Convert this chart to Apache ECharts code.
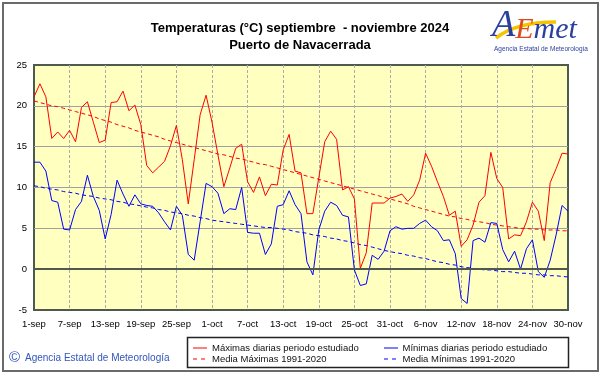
<!DOCTYPE html>
<html>
<head>
<meta charset="utf-8">
<script src="https://cdn.jsdelivr.net/npm/echarts@6/dist/echarts.min.js"></script>
<style>
html,body{margin:0;padding:0;background:#fff;}
#chart{width:601px;height:374px;}
</style>
</head>
<body>
<div id="chart"></div>
<script>
// ---- data ----
var months = [['sep', 30], ['oct', 31], ['nov', 30]];
var categories = [];
months.forEach(function (m) { for (var d = 1; d <= m[1]; d++) categories.push(d + '-' + m[0]); });

var yTicks = [-5, 0, 5, 10, 15, 20, 25];

var maxDaily = [
  21.1, 22.7, 21.1, 16.0, 16.8, 16.0, 17.0, 15.6, 19.8, 20.5,
  18.0, 15.5, 15.8, 20.4, 20.5, 21.8, 19.4, 20.1, 17.7, 12.7,
  11.8, 12.5, 13.2, 15.1, 17.6, 13.4, 8.0, 13.4, 18.9, 21.3,
  18.0, 14.0, 10.1, 12.4, 14.8, 15.3, 10.7, 9.4, 11.3, 9.0,
  10.4, 10.3, 14.6, 16.5, 12.0, 11.8, 6.8, 6.8, 11.2, 15.6,
  16.9, 15.9, 9.7, 10.1, 8.6, 0.1, 2.0, 8.1, 8.1, 8.1,
  8.7, 8.9, 9.2, 8.3, 9.1, 10.9, 14.2, 12.6, 10.7, 8.9,
  6.6, 7.1, 2.8, 3.6, 5.4, 8.2, 9.0, 14.3, 11.1, 10.0,
  3.7, 4.2, 4.1, 5.8, 8.2, 7.1, 3.5, 10.6, 12.3, 14.2, 14.1
];

var minDaily = [
  13.1, 13.1, 12.0, 8.4, 8.2, 4.9, 4.8, 7.3, 8.3, 11.5,
  8.9, 7.2, 3.7, 6.7, 10.9, 9.2, 7.7, 9.1, 8.0, 7.8,
  7.7, 6.9, 5.8, 4.8, 7.7, 6.6, 1.8, 1.1, 5.8, 10.5,
  10.1, 9.3, 6.8, 7.4, 7.3, 10.0, 4.5, 4.4, 4.4, 1.8,
  3.1, 7.7, 7.9, 9.6, 7.9, 6.8, 0.9, -0.7, 4.8, 7.1,
  8.2, 7.8, 6.6, 6.4, -0.1, -2.0, -1.8, 1.7, 1.2, 2.2,
  4.7, 5.2, 4.9, 5.0, 5.0, 5.6, 6.0, 5.2, 4.7, 3.5,
  3.6, 1.9, -3.6, -4.2, 3.5, 3.8, 3.3, 5.7, 5.6, 2.4,
  0.9, 2.2, 0.0, 2.5, 3.6, -0.3, -1.0, 1.1, 4.2, 7.8, 7.1
];

var meanMax = [
  20.6, 20.4, 20.2, 20.0, 19.9, 19.7, 19.5,
  19.3, 19.1, 18.9, 18.7, 18.4, 18.2,
  18.0, 17.7, 17.5, 17.3, 17.0, 16.8,
  16.6, 16.4, 16.2, 15.9, 15.7, 15.5,
  15.3, 15.1, 14.9, 14.7, 14.5, 14.3,
  14.1, 14.0, 13.8, 13.6, 13.5, 13.3,
  13.1, 12.9, 12.8, 12.6, 12.4, 12.2,
  12.0, 11.8, 11.6, 11.4, 11.2, 11.0,
  10.8, 10.6, 10.4, 10.2, 10.0, 9.8,
  9.6, 9.4, 9.2, 9.0, 8.8, 8.6,
  8.4, 8.2, 8.0, 7.7, 7.5, 7.3,
  7.1, 6.9, 6.7, 6.5, 6.4, 6.2,
  6.1, 5.9, 5.8, 5.7, 5.5, 5.4,
  5.3, 5.2, 5.1, 5.0, 5.0, 4.9,
  4.9, 4.8, 4.8, 4.8, 4.7, 4.7
];

var meanMin = [
  10.2, 10.1, 9.9, 9.8, 9.7, 9.5, 9.4,
  9.3, 9.1, 9.0, 8.9, 8.7, 8.6,
  8.5, 8.3, 8.2, 8.0, 7.9, 7.75,
  7.6, 7.5, 7.3, 7.2, 7.0, 6.9,
  6.8, 6.6, 6.5, 6.3, 6.2, 6.0,
  5.9, 5.8, 5.7, 5.6, 5.5, 5.4,
  5.3, 5.2, 5.1, 5.1, 5.0, 4.9,
  4.8, 4.6, 4.5, 4.4, 4.2, 4.1,
  4.0, 3.8, 3.7, 3.5, 3.4, 3.2,
  3.0, 2.9, 2.7, 2.5, 2.3, 2.15,
  2.0, 1.9, 1.7, 1.6, 1.4, 1.3,
  1.1, 0.9, 0.8, 0.6, 0.5, 0.3,
  0.2, 0.1, 0.0, -0.1, -0.1, -0.2,
  -0.3, -0.3, -0.4, -0.5, -0.5, -0.6,
  -0.7, -0.7, -0.8, -0.8, -0.9, -0.95
];

var names = {
  max: 'Máximas diarias periodo estudiado',
  min: 'Mínimas diarias periodo estudiado',
  meanMax: 'Media Máximas 1991-2020',
  meanMin: 'Media Mínimas 1991-2020'
};

// ---- chart ----
var SANS = "'Liberation Sans', Arial, sans-serif";
var chart = echarts.init(document.getElementById('chart'), null, { renderer: 'canvas' });

function legendLine(x, y, color, dashed) {
  return { type: 'line', silent: true, z: 3,
    shape: { x1: x, y1: y, x2: x + 14, y2: y },
    style: { stroke: color, lineWidth: 1, lineDash: dashed ? [4, 4] : null } };
}
function legendText(x, y, txt) {
  return { type: 'text', silent: true, z: 3, x: x, y: y,
    style: { text: txt, fontFamily: SANS, fontSize: 9.5, fill: '#111', verticalAlign: 'middle' } };
}

var option = {
  animation: false,
  backgroundColor: '#ffffff',
  title: {
    text: 'Temperaturas (°C) septiembre  - noviembre 2024\nPuerto de Navacerrada',
    left: 295, top: 15, textAlign: 'center',
    textStyle: { fontFamily: SANS, fontSize: 13, fontWeight: 'bold', color: '#000', lineHeight: 17 }
  },
  legend: { show: false, data: [names.max, names.meanMax, names.min, names.meanMin] },
  grid: {
    left: 34, top: 65, width: 534, height: 245,
    show: true, backgroundColor: '#ffffc0', borderColor: '#4f5a4f', borderWidth: 2
  },
  xAxis: {
    type: 'category', data: categories, boundaryGap: false,
    axisLine: { show: false }, axisTick: { show: false },
    axisLabel: { interval: 5, color: '#000', fontFamily: SANS, fontSize: 9.5, margin: 9 },
    splitLine: { show: true, interval: 5, showMinLine: false, showMaxLine: false,
      lineStyle: { color: '#aaaaaa', type: [3, 2], width: 1 } }
  },
  yAxis: {
    type: 'value', min: yTicks[0], max: yTicks[yTicks.length - 1], interval: 5,
    axisLine: { show: false }, axisTick: { show: false },
    axisLabel: { color: '#000', fontFamily: SANS, fontSize: 9.5, margin: 7 },
    splitLine: { show: true, showMinLine: false, showMaxLine: false,
      lineStyle: { color: '#a0a0a0', width: 1 } }
  },
  graphic: [
    { type: 'rect', silent: true, z: 0, shape: { x: 3, y: 3, width: 595, height: 368 },
      style: { fill: null, stroke: '#6a6a6a', lineWidth: 2 } },
    { type: 'rect', silent: true, z: 1, shape: { x: 187.5, y: 337.5, width: 381, height: 30 },
      style: { fill: '#ffffff', stroke: '#222222', lineWidth: 1.5 } },
    legendLine(193, 348, '#ff0000', false),
    legendText(212, 348, names.max),
    legendLine(193, 359, '#ff0000', true),
    legendText(212, 359, names.meanMax),
    legendLine(384, 348, '#0000ff', false),
    legendText(402.5, 348, names.min),
    legendLine(384, 359, '#0000ff', true),
    legendText(402.5, 359, names.meanMin),
    { type: 'text', silent: true, z: 2, x: 9, y: 358,
      style: { text: '©', fontFamily: SANS, fontSize: 15, fill: '#3355bb', verticalAlign: 'middle' } },
    { type: 'text', silent: true, z: 2, x: 25, y: 358,
      style: { text: 'Agencia Estatal de Meteorología', fontFamily: SANS, fontSize: 10, fill: '#3355bb', verticalAlign: 'middle' } },
    // AEMET logo approximation
    { type: 'bezierCurve', silent: true, z: 2,
      shape: { x1: 496, y1: 38, x2: 556, y2: 22, cpx1: 510, cpy1: 27, cpx2: 532, cpy2: 22 },
      style: { stroke: '#f5c400', lineWidth: 3.5, fill: null } },
    { type: 'text', silent: true, z: 3, x: 492, y: 7,
      style: { text: '{a|A}{e|E}{m|met}', rich: {
        a: { fontFamily: "'Liberation Serif', serif", fontStyle: 'italic', fontSize: 38, fill: '#2a3f9e', verticalAlign: 'bottom' },
        e: { fontFamily: "'Liberation Serif', serif", fontStyle: 'italic', fontSize: 30, fill: '#e04a1a', verticalAlign: 'bottom' },
        m: { fontFamily: "'Liberation Serif', serif", fontStyle: 'italic', fontSize: 30, fill: '#2a3f9e', verticalAlign: 'bottom' }
      } } },
    { type: 'text', silent: true, z: 3, x: 494, y: 46,
      style: { text: 'Agencia Estatal de Meteorología', fontFamily: SANS, fontSize: 6.5, fill: '#2a3f9e' } }
  ],
  series: [
    {
      name: names.meanMax, type: 'line', data: meanMax, symbol: 'none', z: 3,
      lineStyle: { color: '#ff0000', width: 1, type: [4, 3] }, itemStyle: { color: '#ff0000' }
    },
    {
      name: names.meanMin, type: 'line', data: meanMin, symbol: 'none', z: 3,
      lineStyle: { color: '#0000ff', width: 1, type: [4, 3] }, itemStyle: { color: '#0000ff' },
      markLine: {
        silent: true, symbol: 'none', label: { show: false },
        lineStyle: { color: '#4f5a4f', width: 2, type: 'solid' },
        data: [{ yAxis: 0 }]
      }
    },
    {
      name: names.max, type: 'line', data: maxDaily, symbol: 'none', z: 4,
      lineStyle: { color: '#ff0000', width: 1 }, itemStyle: { color: '#ff0000' }
    },
    {
      name: names.min, type: 'line', data: minDaily, symbol: 'none', z: 4,
      lineStyle: { color: '#0000ff', width: 1 }, itemStyle: { color: '#0000ff' }
    }
  ]
};
chart.setOption(option);
</script>
</body>
</html>
